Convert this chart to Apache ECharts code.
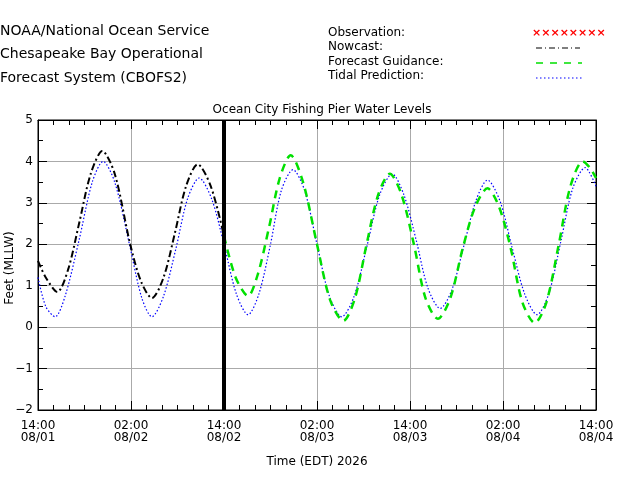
<!DOCTYPE html>
<html><head><meta charset="utf-8">
<script src="https://cdn.jsdelivr.net/npm/echarts@6/dist/echarts.min.js"></script>
<style>html,body{margin:0;background:#fff}#c{width:630px;height:500px}</style>
</head><body><div id="c"></div>
<script>
// hours since 08/01 14:00
const tickLabels = ['14:00\n08/01', '02:00\n08/02', '14:00\n08/02', '02:00\n08/03', '14:00\n08/03', '02:00\n08/04', '14:00\n08/04'];
const tidal = [[0,1.2],[1,0.5],[2.2,0.25],[3.5,0.75],[5.3,2.1],[7,3.5],[8.4,4.0],[9.9,3.5],[11.8,2.0],[13.4,0.7],[14.7,0.25],[16.2,0.75],[17.8,1.9],[19.3,3.1],[20.8,3.6],[22.4,3.1],[24,2.0],[25.6,0.8],[27.1,0.3],[28.5,0.8],[30,2.0],[31.4,3.3],[32.9,3.8],[34.4,3.3],[36,2.0],[37.6,0.75],[39.2,0.25],[40.8,0.75],[42.5,2.0],[44.1,3.2],[45.7,3.7],[47.2,3.2],[48.8,2.1],[50.3,0.95],[51.9,0.45],[53.4,0.9],[55,2.0],[56.5,3.05],[58,3.55],[59.6,3.05],[61.2,1.9],[62.8,0.8],[64.4,0.3],[65.9,0.8],[67.5,2.1],[69,3.35],[70.6,3.85],[72,3.4]];
const nowcast = [[0,1.6],[1,1.2],[2.5,0.85],[3.9,1.4],[5.3,2.5],[6.8,3.7],[8.3,4.25],[9.9,3.7],[11.9,2.0],[13.3,1.1],[14.7,0.7],[16.2,1.2],[17.7,2.3],[19.1,3.4],[20.6,3.93],[22.3,3.4],[24,2.2]];
const forecast = [[24,2.2],[25.5,1.2],[27.1,0.75],[28.4,1.3],[29.8,2.4],[31.2,3.6],[32.6,4.15],[34.2,3.5],[36,2.0],[37.7,0.65],[39.4,0.15],[40.9,0.7],[42.4,2.0],[43.9,3.2],[45.4,3.7],[46.9,3.2],[48.5,2.0],[50,0.7],[51.6,0.2],[53.2,0.7],[54.8,1.9],[56.4,2.9],[58,3.35],[59.5,2.9],[61,1.9],[62.5,0.6],[64.1,0.1],[65.6,0.6],[67.2,2.0],[68.7,3.4],[70.3,4.0],[71.2,3.85],[72,3.6]];
const nowcastEnd = 24;

const font = 'DejaVu Sans';
const txt = (x, y, s, size) => ({ type: 'text', left: x, top: y, style: { text: s, font: size + 'px ' + font, fill: '#000' } });
const seg = (x1, x2, y, color, dash, w) => ({ type: 'line', shape: { x1, y1: y, x2, y2: y }, style: { stroke: color, lineWidth: w, lineDash: dash } });

const chart = echarts.init(document.getElementById('c'));
const baseX = { type: 'value', min: 0, max: 72, interval: 12, minorTick: { show: true, splitNumber: 6, length: 5, lineStyle: { color: '#000' } },
  axisLine: { onZero: false, lineStyle: { color: '#000' } }, axisTick: { inside: true, length: 9, lineStyle: { color: '#000' } } };
const baseY = { type: 'value', min: -2, max: 5, interval: 1, minorTick: { show: true, splitNumber: 2, length: 5, lineStyle: { color: '#000' } },
  axisLine: { onZero: false, lineStyle: { color: '#000' } }, axisTick: { inside: true, length: 9, lineStyle: { color: '#000' } } };
chart.setOption({
  animation: false,
  textStyle: { fontFamily: font },
  grid: { left: 38, right: 34, top: 120, bottom: 90, show: true, borderColor: '#000', containLabel: false, outerBoundsMode: 'none' },
  title: { text: 'Ocean City Fishing Pier Water Levels', left: 317, textAlign: 'center', top: 99, textStyle: { fontSize: 12, fontWeight: 'normal', color: '#000', fontFamily: font } },
  xAxis: [
    Object.assign({}, baseX, { position: 'bottom', name: 'Time (EDT) 2026', nameLocation: 'middle', nameGap: 46, nameTextStyle: { fontSize: 12, color: '#000' },
      splitLine: { show: true, lineStyle: { color: '#aaa' } },
      axisLabel: { color: '#000', fontSize: 12, lineHeight: 12, margin: 10, formatter: v => tickLabels[v / 12] } }),
    Object.assign({}, baseX, { position: 'top', axisLabel: { show: false }, splitLine: { show: false } })
  ],
  yAxis: [
    Object.assign({}, baseY, { position: 'left',
      splitLine: { show: true, lineStyle: { color: '#aaa' } }, axisLabel: { color: '#000', fontSize: 12, margin: 5, formatter: v => String(v).replace('-', '\u2212') } }),
    Object.assign({}, baseY, { position: 'right', axisLabel: { show: false }, splitLine: { show: false } })
  ],
  graphic: [
    txt(0, 24, 'NOAA/National Ocean Service', 14),
    txt(0, 47, 'Chesapeake Bay Operational', 14),
    txt(0, 71, 'Forecast System (CBOFS2)', 14),
    txt(328, 27, 'Observation:', 12),
    txt(328, 41, 'Nowcast:', 12),
    txt(328, 56, 'Forecast Guidance:', 12),
    txt(328, 70, 'Tidal Prediction:', 12),
    { type: 'text', x: 4, y: 268, rotation: Math.PI / 2, style: { text: 'Feet (MLLW)', font: '12px ' + font, fill: '#000', align: 'center', verticalAlign: 'top' } },
    { type: 'text', left: 532, top: 28, style: { text: '××××××××', font: 'bold 11px ' + font, fill: '#ff0000' } },
    seg(536, 580, 48, '#000', [6, 3, 1, 3], 1.2),
    seg(536, 582, 63, '#00e000', [7, 7], 1.5),
    seg(536, 582, 78, '#0000ff', [1.5, 2.5], 1.2)
  ],
  series: [
    { type: 'line', data: tidal, smooth: 0.3, symbol: 'none', lineStyle: { color: '#0000ff', width: 1.2, type: [1.5, 2] } },
    { type: 'line', data: nowcast, smooth: 0.3, symbol: 'none', lineStyle: { color: '#000', width: 2, type: [7, 3, 2, 3] },
      markLine: { silent: true, symbol: ['none', 'none'], label: { show: false }, lineStyle: { color: '#000', width: 4, type: 'solid' }, data: [{ xAxis: nowcastEnd }] } },
    { type: 'line', data: forecast, smooth: 0.3, symbol: 'none', lineStyle: { color: '#00e000', width: 2.5, type: [8, 6] } }
  ]
});
</script></body></html>
